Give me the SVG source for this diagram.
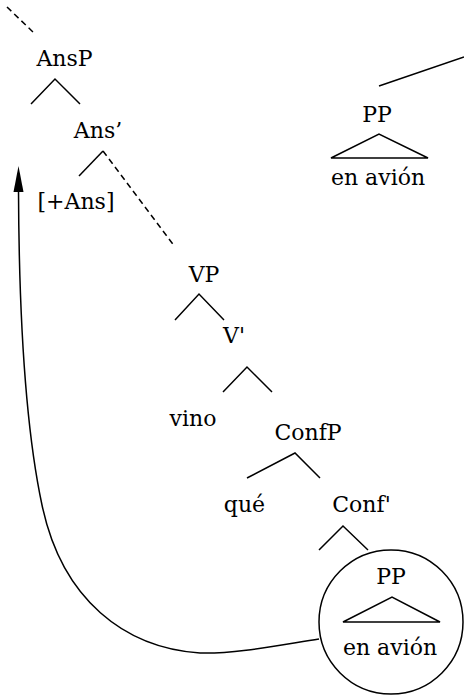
<svg xmlns="http://www.w3.org/2000/svg" width="464" height="696" viewBox="0 0 464 696">
<style>
.t{font-family:'DejaVu Serif',serif;font-size:22px;fill:#000;text-anchor:middle}
.l{stroke:#000;stroke-width:1.5;fill:none}
.d{stroke:#000;stroke-width:1.5;fill:none;stroke-dasharray:6,4}
</style>
<g class="t">
<g id="AnsP"><text x="64.5" y="66">AnsP</text><path class="l" d="M31,104 L55,79 L80,104"/></g>
<g id="Ans1"><text x="98" y="138">Ans’</text><path class="l" d="M79,176 L103,151"/></g>
<g id="Ans"><text x="76" y="209">[+Ans]</text></g>
<g id="PPtop"><text x="377" y="122">PP</text><path class="l" d="M331,158 L379,134 L428,158 Z"/><text x="378" y="185">en avión</text></g>
<g id="VP"><text x="204" y="282">VP</text><path class="l" d="M175,320 L199,294 L224,320"/></g>
<g id="V1"><text x="234" y="343">V'</text><path class="l" d="M223,392 L247,367 L272,392"/></g>
<g id="vino"><text x="193" y="426">vino</text></g>
<g id="ConfP"><text x="308" y="440">ConfP</text><path class="l" d="M247,478 L295,453 L320,478"/></g>
<g id="que"><text x="244.5" y="512">qué</text></g>
<g id="Conf1"><text x="361.5" y="512">Conf'</text><path class="l" d="M319,550 L343,526 L368,550"/></g>
<g id="PPcircle"><circle class="l" cx="391" cy="622" r="72"/><text x="391" y="584">PP</text><path class="l" d="M343,622 L392,597 L440,622 Z"/><text x="390" y="655">en avión</text></g>
</g>
<g id="connectors">
<path class="d" d="M7,7 L33,32"/>
<path class="d" d="M103,151 L175,247"/>
<path class="l" d="M379,86 L464,57"/>
<path class="l" d="M319,639 C280,645 235,654 200,653 C125,648 62,600 42,505 C26,430 19,330 18.5,190"/>
<path d="M18.5,166 L13.5,192 L23.5,192 Z" fill="#000"/>
</g>
</svg>
